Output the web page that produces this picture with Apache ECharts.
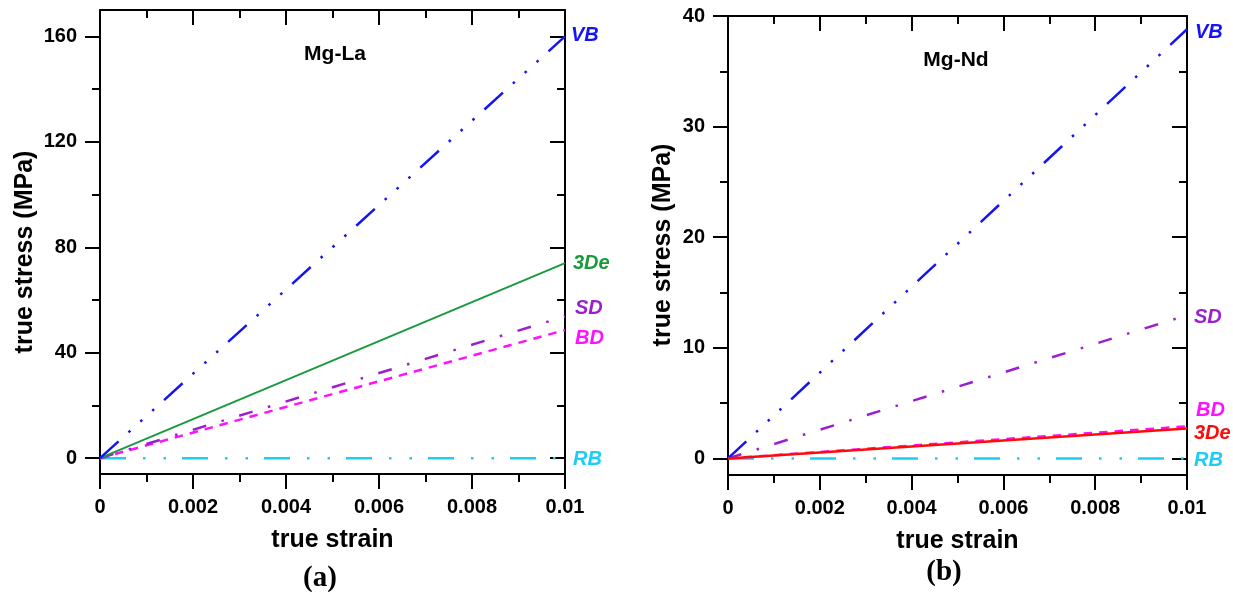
<!DOCTYPE html>
<html>
<head>
<meta charset="utf-8">
<script src="https://cdn.jsdelivr.net/npm/echarts@6/dist/echarts.min.js"></script>
<style>html,body{margin:0;padding:0;background:#fff}#c{width:1233px;height:596px}</style>
</head>
<body>
<div id="c"></div>
<script>
// ---- data ----
const strain = [0, 0.01];
const seriesNames = ['VB', '3De', 'SD', 'BD', 'RB'];
// panel (a) Mg-La, true stress (MPa)
const laVB = [0, 160];
const la3De = [0, 74];
const laSD = [0, 53.8];
const laBD = [0, 48.6];
const laRB = [0, 0];
// panel (b) Mg-Nd, true stress (MPa)
const ndVB = [0, 38.8];
const ndSD = [0, 12.95];
const ndBD = [0, 2.9];
const nd3De = [0, 2.7];
const ndRB = [0, 0];
// ticks
const laYTicks = [0, 40, 80, 120, 160];
const laYMinor = [20, 60, 100, 140];
const ndYTicks = [0, 10, 20, 30, 40];
const ndYMinor = [5, 15, 25, 35];

const FONT = "'Liberation Sans', Arial, sans-serif";
const SERIF = "'Liberation Serif', 'Times New Roman', serif";
const C = {VB: '#1414f5', '3De': '#1a9a3c', SD: '#9b1fcf', BD: '#ff10ff', RB: '#1ccdf7', red: '#ff0a0a'};
const DASH = {
  VB: [25, 13.5, 2.5, 13.5, 2.5, 13.5, 2.5, 13.5],
  SD: [14, 16, 2.5, 16],
  BD: [8.5, 7],
  RB: [26, 17, 2.5, 18, 2.5, 16],
  solid: 'solid'
};

function pts(ys) { return strain.map((x, i) => [x, ys[i]]); }

const grids = [
  {left: 100, top: 10, width: 465, height: 464},
  {left: 728, top: 16, width: 459, height: 459}
];
const yRange = [{min: -6, max: 170}, {min: -1.5, max: 40}];
const yMajor = [laYTicks, ndYTicks];
const yMinor = [laYMinor, ndYMinor];

const lineBlack = {show: true, lineStyle: {color: '#000', width: 2}};
const xAxis = [], yAxis = [];
[0, 1].forEach(g => {
  xAxis.push({
    type: 'value', gridIndex: g, position: 'bottom', min: 0, max: 0.01, interval: 0.002,
    axisLine: {show: true, onZero: false, lineStyle: {color: '#000', width: 2}},
    axisTick: {show: true, inside: false, length: 15, lineStyle: {color: '#000', width: 2}},
    minorTick: {show: true, splitNumber: 2, length: 8, lineStyle: {color: '#000', width: 2}},
    splitLine: {show: false},
    axisLabel: {show: true, margin: 23, color: '#000', fontFamily: FONT, fontWeight: 'bold', fontSize: 20,
      formatter: v => v === 0 ? '0' : String(+v.toFixed(4))},
    name: 'true strain', nameLocation: 'middle', nameGap: 54,
    nameTextStyle: {color: '#000', fontFamily: FONT, fontWeight: 'bold', fontSize: 25}
  });
  xAxis.push({
    type: 'value', gridIndex: g, position: 'top', min: 0, max: 0.01, interval: 0.002,
    axisLine: {show: true, onZero: false, lineStyle: {color: '#000', width: 2}},
    axisTick: {show: true, inside: true, length: 15, lineStyle: {color: '#000', width: 2}},
    minorTick: {show: true, splitNumber: 2, length: 8, lineStyle: {color: '#000', width: 2}},
    splitLine: {show: false}, axisLabel: {show: false}
  });
  const r = yRange[g];
  // left major
  yAxis.push({
    type: 'value', gridIndex: g, position: 'left', min: r.min, max: r.max,
    axisLine: {show: true, onZero: false, lineStyle: {color: '#000', width: 2}},
    axisTick: {show: true, inside: false, length: 15, customValues: yMajor[g], lineStyle: {color: '#000', width: 2}},
    axisLabel: {show: true, margin: 23, customValues: yMajor[g], color: '#000', fontFamily: FONT, fontWeight: 'bold', fontSize: 20},
    splitLine: {show: false}
  });
  // left minor
  yAxis.push({
    type: 'value', gridIndex: g, position: 'left', min: r.min, max: r.max,
    axisLine: {show: false, onZero: false},
    axisTick: {show: true, inside: false, length: 8, customValues: yMinor[g], lineStyle: {color: '#000', width: 2}},
    axisLabel: {show: false}, splitLine: {show: false}
  });
  // right major
  yAxis.push({
    type: 'value', gridIndex: g, position: 'right', min: r.min, max: r.max,
    axisLine: {show: true, onZero: false, lineStyle: {color: '#000', width: 2}},
    axisTick: {show: true, inside: true, length: 15, customValues: yMajor[g], lineStyle: {color: '#000', width: 2}},
    axisLabel: {show: false}, splitLine: {show: false}
  });
  // right minor
  yAxis.push({
    type: 'value', gridIndex: g, position: 'right', min: r.min, max: r.max,
    axisLine: {show: false, onZero: false},
    axisTick: {show: true, inside: true, length: 8, customValues: yMinor[g], lineStyle: {color: '#000', width: 2}},
    axisLabel: {show: false}, splitLine: {show: false}
  });
});

function line(name, g, ys, color, dash, width, z) {
  return {
    name: name, type: 'line', xAxisIndex: g * 2, yAxisIndex: g * 4,
    data: pts(ys), showSymbol: false, symbol: 'none', z: z || 2,
    lineStyle: {color: color, width: width || 2.5, type: dash, cap: 'butt'},
    silent: true
  };
}

const series = [
  line('RB', 0, laRB, C.RB, DASH.RB, 2.5),
  line('BD', 0, laBD, C.BD, DASH.BD, 2.5),
  line('SD', 0, laSD, C.SD, DASH.SD, 2.5),
  line('3De', 0, la3De, C['3De'], DASH.solid, 2),
  line('VB', 0, laVB, C.VB, DASH.VB, 2.5),
  line('RB', 1, ndRB, C.RB, DASH.RB, 2.5),
  line('BD', 1, ndBD, C.BD, DASH.BD, 2.5),
  line('SD', 1, ndSD, C.SD, DASH.SD, 2.5),
  line('3De', 1, nd3De, C.red, DASH.solid, 2.5, 3),
  line('VB', 1, ndVB, C.VB, DASH.VB, 2.5)
];

function txt(t, x, y, o) {
  return {type: 'text', x: x, y: y, silent: true, rotation: o.rot || 0,
    style: {text: t, fill: o.color || '#000', font: o.font, textAlign: o.align || 'left', textVerticalAlign: 'middle'}};
}
const endFont = 'italic bold 20px ' + FONT;
const graphics = [
  txt('Mg-La', 335, 54, {font: 'bold 21px ' + FONT, align: 'center'}),
  txt('Mg-Nd', 956, 60, {font: 'bold 21px ' + FONT, align: 'center'}),
  txt('(a)', 320, 579, {font: 'bold 29px ' + SERIF, align: 'center'}),
  txt('(b)', 944, 573, {font: 'bold 29px ' + SERIF, align: 'center'}),
  txt('true stress (MPa)', 25, 252, {font: 'bold 25px ' + FONT, align: 'center', rot: Math.PI / 2}),
  txt('true stress (MPa)', 663, 245, {font: 'bold 25px ' + FONT, align: 'center', rot: Math.PI / 2}),
  // end labels panel (a)
  txt(seriesNames[0], 571, 35, {font: endFont, color: C.VB}),
  txt(seriesNames[1], 573, 263, {font: endFont, color: C['3De']}),
  txt(seriesNames[2], 575, 308, {font: endFont, color: C.SD}),
  txt(seriesNames[3], 575, 338, {font: endFont, color: C.BD}),
  txt(seriesNames[4], 573, 459, {font: endFont, color: C.RB}),
  // end labels panel (b)
  txt(seriesNames[0], 1195, 32, {font: endFont, color: C.VB}),
  txt(seriesNames[2], 1194, 317, {font: endFont, color: C.SD}),
  txt(seriesNames[3], 1196, 410, {font: endFont, color: C.BD}),
  txt(seriesNames[1], 1194, 433, {font: endFont, color: C.red}),
  txt(seriesNames[4], 1194, 460, {font: endFont, color: C.RB})
];

const chart = echarts.init(document.getElementById('c'), null, {renderer: 'canvas'});
chart.setOption({
  animation: false,
  backgroundColor: '#fff',
  grid: grids,
  xAxis: xAxis,
  yAxis: yAxis,
  series: series,
  graphic: graphics
});
</script>
</body>
</html>
